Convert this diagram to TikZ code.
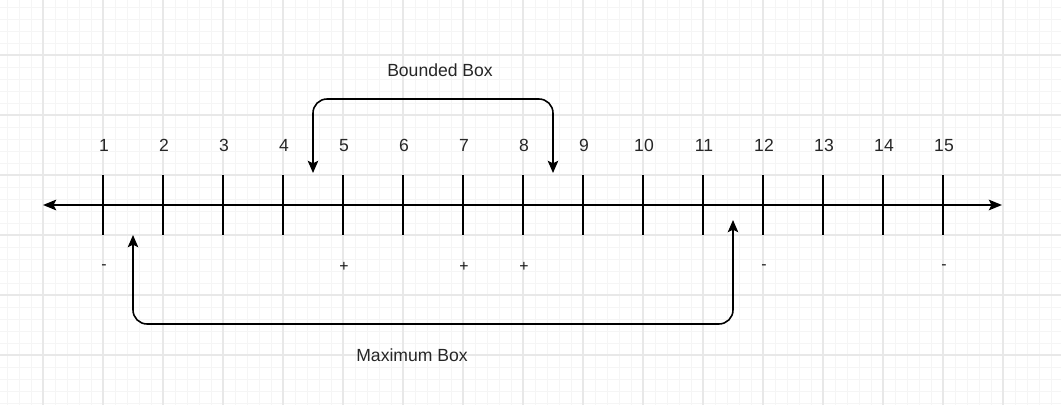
\documentclass[tikz,border=0pt]{standalone}
\usepackage{fontspec}
\setmainfont{Liberation Sans}
\usepackage{tikz}
\usetikzlibrary{arrows.meta}
\usetikzlibrary{calc}
\tikzstyle{gridminor}=[draw=black!4, line width=0.5pt]
\tikzstyle{gridmajor}=[draw=black!9, line width=0.6pt]
\tikzstyle{axisline}=[line width=1.1pt, {Stealth[length=7.5pt,width=6pt,inset=1.5pt]}-{Stealth[length=7.5pt,width=6pt,inset=1.5pt]}]
\tikzstyle{tickline}=[line width=0.9pt]
\tikzstyle{boxconn}=[line width=0.9pt, rounded corners=8pt, {Stealth[length=7pt,width=6pt,inset=1.5pt]}-{Stealth[length=7pt,width=6pt,inset=1.5pt]}]
\tikzstyle{numlabel}=[font=\fontsize{10}{12}\selectfont, text=black!85, text height=7.2pt, text depth=0pt]
\tikzstyle{signlabel}=[font=\fontsize{9}{10}\selectfont, text=black!90]
\newcommand{\signAt}[3]{
	\node[signlabel] (s#1) at ($(t#1)+(1,62)$) {#2#3};
}

\begin{document}
\begin{tikzpicture}[x=0.02cm, y=-0.02cm]
	\useasboundingbox (0,0) rectangle (1061,405);
	\fill[white] (0,0) rectangle (1061,405);
	\foreach \g in {7,19,...,1061} \draw[gridminor] (\g,0) -- (\g,405);
	\foreach \g in {7,19,...,405} \draw[gridminor] (0,\g) -- (1061,\g);
	\foreach \g in {43,103,...,1061} \draw[gridmajor] (\g,0) -- (\g,405);
	\foreach \g in {55,115,...,405} \draw[gridmajor] (0,\g) -- (1061,\g);
	\coordinate (axL) at (43,205);
	\coordinate (axR) at (1002,205);
	\draw[axisline] (axL) -- (axR);
	\foreach \n in {1,...,15} {
		\coordinate (t\n) at ({103+60*(\n-1)},205);
		\draw[tickline] ($(t\n)+(0,-30)$) -- ($(t\n)+(0,30)$);
		\node[numlabel] (n\n) at ($(t\n)+(1,-60)$) {\n};
	}
	\signAt{1}{-}{}
	\signAt{12}{-}{}
	\signAt{15}{-}{}
	\signAt{5}{+}{}
	\signAt{7}{+}{}
	\signAt{8}{+}{}
	\coordinate (bbL) at (313,173);
	\coordinate (bbR) at (553,173);
	\draw[boxconn] (bbL) -- (313,99) -- (553,99) -- (bbR);
	\node[numlabel] (bbox) at (440,70) {Bounded Box};
	\coordinate (mbL) at (133,235);
	\coordinate (mbR) at (733,220);
	\draw[boxconn] (mbL) -- (133,324) -- (733,324) -- (mbR);
	\node[numlabel] (mbox) at (412,355) {Maximum Box};
\end{tikzpicture}
\end{document}
